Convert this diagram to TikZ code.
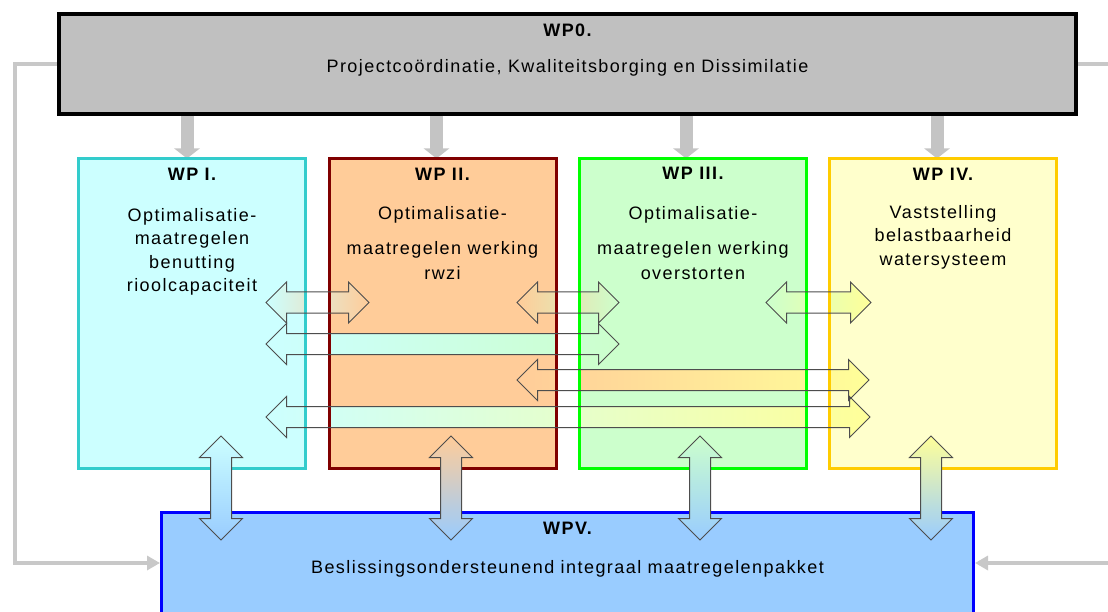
\documentclass[tikz,border=0pt]{standalone}
\usepackage{fontspec}
\setmainfont{Liberation Sans}[LetterSpace=8]
\usetikzlibrary{shapes.arrows,arrows.meta,calc}
\definecolor{wpzero}{HTML}{C0C0C0}
\definecolor{cAf}{HTML}{CCFFFF}
\definecolor{cAb}{HTML}{33CCCC}
\definecolor{cBf}{HTML}{FFCC99}
\definecolor{cBb}{HTML}{800000}
\definecolor{cCf}{HTML}{CCFFCC}
\definecolor{cCb}{HTML}{00FF00}
\definecolor{cDf}{HTML}{FFFFCC}
\definecolor{cDb}{HTML}{FFCC00}
\definecolor{cDa}{HTML}{FFFF99}
\definecolor{wpvf}{HTML}{99CCFF}
\definecolor{wpvb}{HTML}{0000FF}
\definecolor{conngray}{HTML}{C8C8C8}
\definecolor{topgray}{HTML}{C4C4C4}
\definecolor{arredge}{HTML}{4D4D4D}
\begin{document}
\begin{tikzpicture}[x=1pt,y=-1pt,
  boxfill/.style={rectangle, inner sep=0pt, outer sep=0pt, minimum width=227pt, minimum height=310pt},
  boxline/.style={line width=3pt},
  conn/.style={draw=conngray, line width=4pt, -{Triangle[width=14pt,length=13pt]}},
  topconn/.style={draw=topgray, line width=13pt, -{Triangle[width=25pt,length=10pt]}},
  ttl/.style={font=\bfseries\fontsize{18}{22}\selectfont, inner sep=0pt, anchor=base},
  txt/.style={font=\fontsize{18}{23.5}\selectfont, inner sep=0pt, align=center},
  dblarr/.style={shape=double arrow, double arrow tip angle=90, inner sep=0pt, outer sep=0pt, text height=20pt, text depth=0pt, text width=0pt},
  harr/.style={dblarr, minimum width=40pt, double arrow head extend=10pt},
  varr/.style={dblarr, minimum width=42pt, double arrow head extend=11pt, minimum height=104pt, rotate=90},
  arrline/.style={draw=arredge, line width=1pt},
]
\useasboundingbox (0,0) rectangle (1108,612);

% main boxes
\node[draw=black, line width=4pt, fill=wpzero, minimum width=1017pt, minimum height=100pt, inner sep=0pt] (wp0) at (567.5,64) {};
\node[draw=wpvb, line width=3pt, fill=wpvf, minimum width=812pt, minimum height=101pt, inner sep=0pt] (wpv) at (567.5,563) {};

% gray connectors
\coordinate (lc) at (15,563);
\coordinate (rc) at (1113,300);
\draw[conn] (wp0.west) -| (lc) -- (wpv.west);
\draw[conn] (wp0.east) -| (rc) |- (wpv.east);

% work package fills
\node[boxfill, fill=cAf] (wp1) at (192,313.5) {};
\node[boxfill, fill=cBf] (wp2) at (442.5,313.5) {};
\node[boxfill, fill=cCf] (wp3) at (693,313.5) {};
\node[boxfill, fill=cDf] (wp4) at (943,313.5) {};

% arrows from WP0
\coordinate (t1) at ([xshift=-5pt]wp1.north);
\coordinate (t2) at ([xshift=-6pt]wp2.north);
\coordinate (t3) at ([xshift=-7pt]wp3.north);
\coordinate (t4) at ([xshift=-6pt]wp4.north);
\draw[topconn] (t1 |- wp0.south) -- (t1);
\draw[topconn] (t2 |- wp0.south) -- (t2);
\draw[topconn] (t3 |- wp0.south) -- (t3);
\draw[topconn] (t4 |- wp0.south) -- (t4);

% horizontal arrow fills
\node[harr, minimum height=103pt, left color=cAf, right color=cBf] (ha1) at (317.5,302.5) {};
\node[harr, minimum height=102pt, left color=cBf, right color=cCf] (ha2) at (568,302.5) {};
\node[harr, minimum height=105pt, left color=cCf, right color=cDa] (ha3) at (818.5,302.5) {};
\node[harr, minimum height=353pt, left color=cAf, right color=cCf] (ha4) at (442.5,344) {};
\node[harr, minimum height=352pt, left color=cBf, right color=cDa] (ha5) at (693,380) {};
\node[harr, minimum height=604pt, left color=cAf, right color=cDa] (ha6) at (568,417) {};

% white gaps between the work packages
\fill[white] (wp1.east |- 0,278) rectangle (wp2.west |- 0,442);
\fill[white] (wp2.east |- 0,278) rectangle (wp3.west |- 0,442);
\fill[white] (wp3.east |- 0,278) rectangle (wp4.west |- 0,442);

% work package borders
\draw[boxline, draw=cAb] (wp1.north west) rectangle (wp1.south east);
\draw[boxline, draw=cBb] (wp2.north west) rectangle (wp2.south east);
\draw[boxline, draw=cCb] (wp3.north west) rectangle (wp3.south east);
\draw[boxline, draw=cDb] (wp4.north west) rectangle (wp4.south east);

% horizontal arrow outlines
\node[harr, minimum height=103pt, arrline] (ha1o) at (ha1.center) {};
\node[harr, minimum height=102pt, arrline] (ha2o) at (ha2.center) {};
\node[harr, minimum height=105pt, arrline] (ha3o) at (ha3.center) {};
\node[harr, minimum height=353pt, arrline] (ha4o) at (ha4.center) {};
\node[harr, minimum height=352pt, arrline] (ha5o) at (ha5.center) {};
\node[harr, minimum height=604pt, arrline] (ha6o) at (ha6.center) {};

% texts
\node[ttl] (t0) at (567.5,36.5) {WP0.};
\node[txt, anchor=base] (s0) at (567.5,73) {Projectcoördinatie, Kwaliteitsborging en Dissimilatie};
\node[ttl] (tt1) at (192,181) {WP I.};
\node[ttl] (tt2) at (442.5,181) {WP II.};
\node[ttl] (tt3) at (693,180) {WP III.};
\node[ttl] (tt4) at (943,181) {WP IV.};
\node[txt, anchor=north] (s1) at (192,208) {Optimalisatie-\\maatregelen\\benutting\\rioolcapaciteit};
\node[txt, anchor=north] (s2) at (442.5,206) {Optimalisatie-\\[11.5pt]maatregelen werking\\[1.5pt]rwzi};
\node[txt, anchor=north] (s3) at (693,206) {Optimalisatie-\\[11.5pt]maatregelen werking\\[1.5pt]overstorten};
\node[txt, anchor=north] (s4) at (943,205) {Vaststelling\\belastbaarheid\\watersysteem};
\node[ttl] (tv) at (567.5,534.5) {WPV.};
\node[txt, anchor=base] (sv) at (567.5,573) {Beslissingsondersteunend integraal maatregelenpakket};

% vertical arrows to WPV
\node[varr, arrline, top color=cAf, bottom color=wpvf] (va1) at (221,488) {};
\node[varr, arrline, top color=cBf, bottom color=wpvf] (va2) at (451,488) {};
\node[varr, arrline, top color=cCf, bottom color=wpvf] (va3) at (700,488) {};
\node[varr, arrline, top color=cDa, bottom color=wpvf] (va4) at (931,488) {};
\end{tikzpicture}
\end{document}
